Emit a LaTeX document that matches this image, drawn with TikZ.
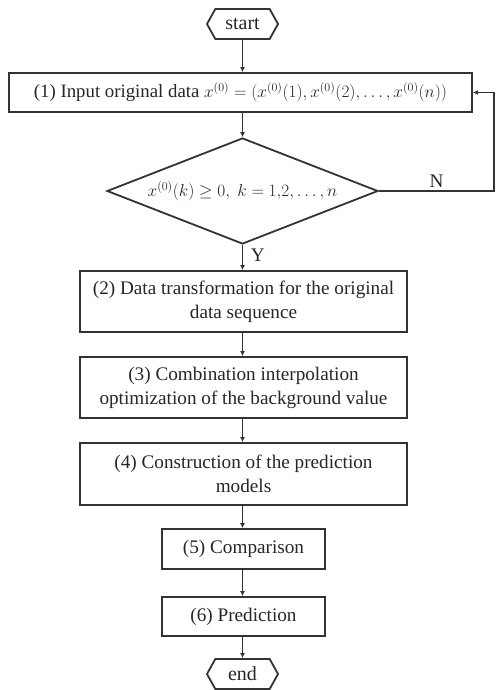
\documentclass[tikz,border=0pt]{standalone}
\usepackage{fontspec}
\setmainfont{Liberation Serif}
\usetikzlibrary{shapes.geometric,shapes.symbols,arrows.meta}

\begin{document}
\begin{tikzpicture}[x=1pt,y=-1pt,
  line width=1.8pt,
  every node/.style={text=black!85},
  font=\fontsize{19.2}{24}\selectfont,
  arr/.style={draw=black!80, -{Latex[length=5pt,width=5pt]}},
  procbox/.style={draw=black!80, rectangle, inner sep=0pt, align=center},
  termbox/.style={draw=black!80, signal, signal to=west and east,
    signal pointer angle=122, inner sep=0pt,
    minimum width=71pt, minimum height=30pt,
    font=\fontsize{20}{24}\selectfont},
  decide/.style={draw=black!80, diamond, inner sep=0pt, aspect=2.56,
    minimum width=271pt, minimum height=106pt,
    font=\fontsize{17.4}{22}\selectfont}
]
\useasboundingbox (0,0) rectangle (495,690);

% terminals, decision and process steps
\node[termbox] (start) at (242.5,24) {start};
\node[procbox, minimum width=463pt, minimum height=39pt,
  font=\fontsize{18.8}{24}\selectfont] (b1) at (240.5,92.5)
  {(1) Input original data $x^{(0)}=\bigl(x^{(0)}(1),x^{(0)}(2),\dots,x^{(0)}(n)\bigr)$};
\node[decide] (d) at (242.5,191) {$x^{(0)}(k)\ge 0,\ k=1{,}2,\dots,n$};
\node[procbox, minimum width=327pt, minimum height=61pt] (b2) at (243.5,301.5)
  {(2) Data transformation for the original\\data sequence};
\node[procbox, minimum width=327pt, minimum height=61pt] (b3) at (243.5,387.5)
  {(3) Combination interpolation\\optimization of the background value};
\node[procbox, minimum width=327pt, minimum height=62pt] (b4) at (243.5,474)
  {(4) Construction of the prediction\\models};
\node[procbox, minimum width=163pt, minimum height=40pt] (b5) at (243.5,549)
  {(5) Comparison};
\node[procbox, minimum width=163pt, minimum height=39pt] (b6) at (243.5,616.5)
  {(6) Prediction};
\node[termbox] (end) at (242.5,674) {end};

% main flow
\draw[arr] (start.south) -- (start.south |- b1.north);
\draw[arr] (start.south |- b1.south) -- (d.north);
\draw[arr] (d.south) -- (d.south |- b2.north);
\draw[arr] (d.south |- b2.south) -- (d.south |- b3.north);
\draw[arr] (d.south |- b3.south) -- (d.south |- b4.north);
\draw[arr] (d.south |- b4.south) -- (d.south |- b5.north);
\draw[arr] (d.south |- b5.south) -- (d.south |- b6.north);
\draw[arr] (d.south |- b6.south) -- (end.north);
\node[anchor=west, inner sep=0pt] (ylab) at (250,255) {Y};

% feedback when the data are negative
\coordinate (fb) at (494,191);
\draw[arr] (d.east) -- node[above, inner sep=3pt] (nlab) {N} (fb) |- (b1.east);
\end{tikzpicture}
\end{document}
